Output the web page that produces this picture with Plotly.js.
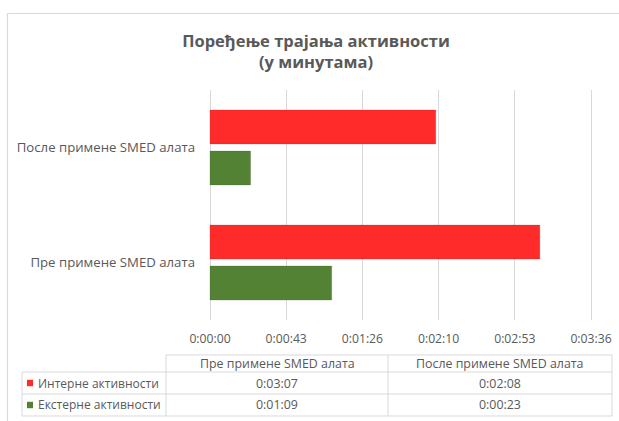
<!DOCTYPE html>
<html>
<head>
<meta charset="utf-8">
<script src="https://cdn.plot.ly/plotly-3.0.1.min.js"></script>
<style>
  html, body { margin: 0; padding: 0; background: #fff; }
  #chart { width: 619px; height: 421px; }
</style>
</head>
<body>
<div id="chart"></div>
<script>
// ---- data ----
var categories = ["Пре примене SMED алата", "После примене SMED алата"];
var seriesNames = ["Интерне активности", "Екстерне активности"];
var internalSec = [187, 128];   // 0:03:07, 0:02:08
var externalSec = [69, 23];     // 0:01:09, 0:00:23
var tickSec = [0, 43.2, 86.4, 129.6, 172.8, 216];
var tickLabels = ["0:00:00", "0:00:43", "0:01:26", "0:02:10", "0:02:53", "0:03:36"];
var titleLines = ["Поређење трајања активности", "(у минутама)"];

// ---- styles ----
var RED = "#ff2b2b", GREEN = "#548235", TXT = "#595959", GRID = "#d9d9d9";
var FONT = "Open Sans, sans-serif";

function fmt(s) {
  var m = Math.floor(s / 60), r = Math.round(s % 60);
  return "0:" + (m < 10 ? "0" : "") + m + ":" + (r < 10 ? "0" : "") + r;
}

// plot area in pixels (slightly padded so edge gridlines are kept)
var L = 208, R = 593, T = 90, B = 320, W = 619, H = 421;
var X0 = 210, X1 = 591, XMAX = 216;
var pxPerUnit = (X1 - X0) / XMAX;
var xRange = [-(X0 - L) / pxPerUnit, XMAX + (R - X1) / pxPerUnit];
function px(x) { return (x - L) / (R - L); }
function py(y) { return (B - y) / (B - T); }

var traces = [
  { type: "bar", orientation: "h", name: seriesNames[1], y: categories, x: externalSec,
    marker: { color: GREEN, line: { color: "rgba(60,80,40,0.35)", width: 0.6 } }, hoverinfo: "x+y" },
  { type: "bar", orientation: "h", name: seriesNames[0], y: categories, x: internalSec,
    marker: { color: RED, line: { color: "rgba(150,30,30,0.3)", width: 0.6 } }, hoverinfo: "x+y" }
];

var shapes = [];
var annotations = [];
function line(x0, y0, x1, y1) {
  shapes.push({ type: "line", xref: "paper", yref: "paper",
    x0: px(x0), y0: py(y0), x1: px(x1), y1: py(y1),
    line: { color: GRID, width: 1 } });
}
// chart border
shapes.push({ type: "rect", xref: "paper", yref: "paper",
  x0: px(7.5), y0: py(13.5), x1: px(640), y1: py(440),
  line: { color: GRID, width: 1.2 }, fillcolor: "rgba(0,0,0,0)" });

// data table grid
var colX = [22, 166, 388, 612];
var rowY = [355, 372, 394, 416];
line(colX[1], rowY[0], colX[3], rowY[0]);
for (var i = 1; i < rowY.length; i++) line(colX[0], rowY[i], colX[3], rowY[i]);
line(colX[0], rowY[1], colX[0], rowY[3]);
for (var j = 1; j < colX.length; j++) line(colX[j], rowY[0], colX[j], rowY[3]);

function text(t, x, y, xanchor, size) {
  annotations.push({ xref: "paper", yref: "paper", x: px(x), y: py(y), text: t,
    showarrow: false, xanchor: xanchor, yanchor: "middle",
    font: { family: FONT, size: size || 12, color: TXT } });
}
// header (category names)
for (var c = 0; c < categories.length; c++) {
  text(categories[c], (colX[c + 1] + colX[c + 2]) / 2, (rowY[0] + rowY[1]) / 2, "center", 12.4);
}
var rowsVals = [internalSec, externalSec];
var rowColors = [RED, GREEN];
for (var r = 0; r < 2; r++) {
  var yc = (rowY[r + 1] + rowY[r + 2]) / 2;
  shapes.push({ type: "rect", xref: "paper", yref: "paper",
    x0: px(27), x1: px(33), y0: py(yc - 3.2), y1: py(yc + 3.2),
    fillcolor: rowColors[r], line: { width: 0 } });
  text(seriesNames[r], 36, yc, "left", 12);
  for (var c2 = 0; c2 < categories.length; c2++) {
    text(fmt(rowsVals[r][c2]), (colX[c2 + 1] + colX[c2 + 2]) / 2, yc, "center", 12.4);
  }
}

var layout = {
  width: W, height: H,
  margin: { l: L, r: W - R, t: T, b: H - B, pad: 0 },
  paper_bgcolor: "#fff", plot_bgcolor: "#fff",
  title: {
    text: "<b>" + titleLines.join("<br>") + "</b>",
    font: { family: FONT, size: 16.5, color: TXT },
    xref: "paper", x: px(316), xanchor: "center",
    yref: "container", y: 1 - 47 / H, yanchor: "top"
  },
  showlegend: false,
  barmode: "group",
  bargap: 0.287,
  bargroupgap: 0.17,
  xaxis: {
    range: xRange, tickvals: tickSec, ticktext: tickLabels,
    showgrid: true, gridcolor: GRID, gridwidth: 1,
    zeroline: true, zerolinecolor: GRID, zerolinewidth: 1, showline: false,
    ticks: "", ticklabelstandoff: 10,
    tickfont: { family: FONT, size: 12.2, color: TXT }, fixedrange: true
  },
  yaxis: {
    type: "category", categoryorder: "array", categoryarray: categories,
    showgrid: false, zeroline: false, showline: false, ticks: "",
    ticklabelstandoff: 12,
    tickfont: { family: FONT, size: 13.2, color: TXT }, fixedrange: true
  },
  shapes: shapes,
  annotations: annotations
};

Plotly.newPlot("chart", traces, layout, { displayModeBar: false, staticPlot: true });
</script>
</body>
</html>
